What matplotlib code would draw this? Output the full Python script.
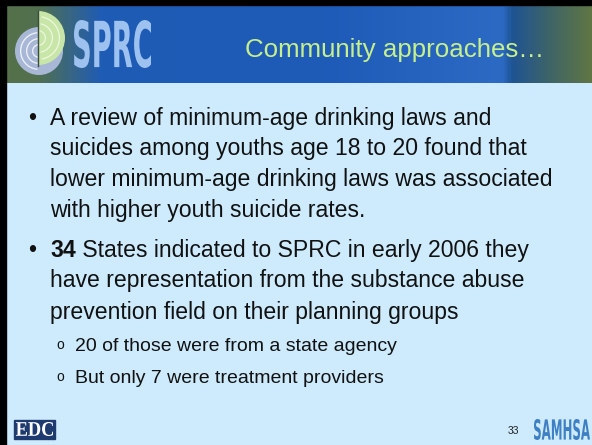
import numpy as np
import matplotlib
matplotlib.use("Agg")
import matplotlib.pyplot as plt
from matplotlib.patches import Rectangle, Wedge, Circle, PathPatch
from matplotlib.textpath import TextPath
from matplotlib.font_manager import FontProperties
from matplotlib.transforms import Affine2D
from matplotlib.colors import LinearSegmentedColormap

W, H = 592, 445

title = "Community approaches\u2026"
bullet1 = [
    "A review of minimum-age drinking laws and",
    "suicides among youths age 18 to 20 found that",
    "lower minimum-age drinking laws was associated",
    "with higher youth suicide rates.",
]
bullet2_bold = "34"
bullet2 = [
    " States indicated to SPRC in early 2006 they",
    "have representation from the substance abuse",
    "prevention field on their planning groups",
]
sub_bullets = [
    "20 of those were from a state agency",
    "But only 7 were treatment providers",
]
page_no = "33"

BODY = "#cdebfd"
TITLE_CLR = "#c6f08c"
INK = "#111111"
FONT = "Liberation Sans"

fig = plt.figure(figsize=(W / 100, H / 100), dpi=100)
ax = fig.add_axes([0, 0, 1, 1])

# background
ax.add_patch(Rectangle((0, 0), W, H, color=BODY, zorder=0))

# header gradient band
stops = [
    (0.0, "#56704a"), (0.06, "#52704e"), (0.17, "#1f5cb5"), (0.55, "#1e5bb8"),
    (0.85, "#2c6ac4"), (0.868, "#1f5493"), (0.93, "#3e6468"), (1.0, "#5f7544"),
]
cmap = LinearSegmentedColormap.from_list("hdr", stops)
grad = np.linspace(0, 1, 600)[None, :]
ax.imshow(grad, cmap=cmap, extent=(0, W, 83, 5), aspect="auto", zorder=1)

ax.set_xlim(0, W)
ax.set_ylim(H, 0)
ax.axis("off")

# border
ax.add_patch(Rectangle((0, 0), W, 5, color="black", zorder=5))
ax.add_patch(Rectangle((0, 0), 5.5, H, color="black", zorder=5))

# SPRC logo: grey disc with rings behind a green half disc
ax.add_patch(Circle((39, 51), 24, facecolor="#a9b7d6", edgecolor="none", zorder=2))
for r in (7, 13, 19):
    ax.add_patch(Wedge((39, 51), r, 95, 265, width=1.3, facecolor="#eef2fa",
                       edgecolor="none", zorder=3))
ax.add_patch(Wedge((38, 38), 27, -90, 90, facecolor="#c8e6a8", edgecolor="none", zorder=3))
for r in (8, 15, 22):
    ax.add_patch(Wedge((38, 38), r, -80, 80, width=1.2, facecolor="#eef8e0",
                       edgecolor="none", zorder=3))
ax.plot([37.5, 37.5], [11, 66], color="#3c4a40", lw=1, zorder=3)


def squeezed_text(s, x, y, height, width, color, family, weight="bold"):
    tp = TextPath((0, 0), s, size=100, prop=FontProperties(family=family, weight=weight))
    ext = tp.get_extents()
    sx = width / ext.width
    sy = height / ext.height
    tr = Affine2D().translate(-ext.x0, -ext.y0).scale(sx, -sy).translate(x, y)
    ax.add_patch(PathPatch(tr.transform_path(tp), facecolor=color, edgecolor="none", zorder=4))


squeezed_text("SPRC", 74, 68, 48, 77, "#9dc2ef", "DejaVu Sans")

# title
ax.text(394.5, 57, title, color=TITLE_CLR, fontsize=18.6, family=FONT,
        ha="center", va="baseline", zorder=4)

# bullets
FS = 16.6
y1 = [125, 155.5, 186, 216.5]
ax.text(32, y1[0], "\u2022", fontsize=FS, family=FONT, ha="center", va="baseline", color=INK)
for y, s in zip(y1, bullet1):
    ax.text(50, y, s, fontsize=FS, family=FONT, ha="left", va="baseline", color=INK)

y2 = [257, 287.5, 318.5]
ax.text(32, y2[0], "\u2022", fontsize=FS, family=FONT, ha="center", va="baseline", color=INK)
tb = ax.text(50, y2[0], bullet2_bold, fontsize=FS, family=FONT, weight="bold",
             ha="left", va="baseline", color=INK)
ax.annotate(bullet2[0], xy=(1, 0.5), xycoords=tb, fontsize=FS, family=FONT,
            ha="left", va="center", color=INK)
for y, s in zip(y2[1:], bullet2[1:]):
    ax.text(50, y, s, fontsize=FS, family=FONT, ha="left", va="baseline", color=INK)

y3 = [351, 383]
for y, s in zip(y3, sub_bullets):
    ax.text(60, y - 2, "o", fontsize=10, family=FONT, ha="center", va="baseline", color=INK)
    ax.text(75, y, s, fontsize=14, family=FONT, ha="left", va="baseline", color=INK)

# footer logos
ax.add_patch(Rectangle((14, 420), 41, 19, color="#1f3a6e", zorder=2))
squeezed_text("EDC", 16, 436, 14, 37, "white", "Liberation Serif")
ax.text(513, 434, page_no, fontsize=7.5, family=FONT, ha="center", va="baseline", color="#222222")
squeezed_text("SAMHSA", 534, 440, 21, 56, "#3f80c4", "DejaVu Sans")

fig.savefig("out.png", dpi=100)
